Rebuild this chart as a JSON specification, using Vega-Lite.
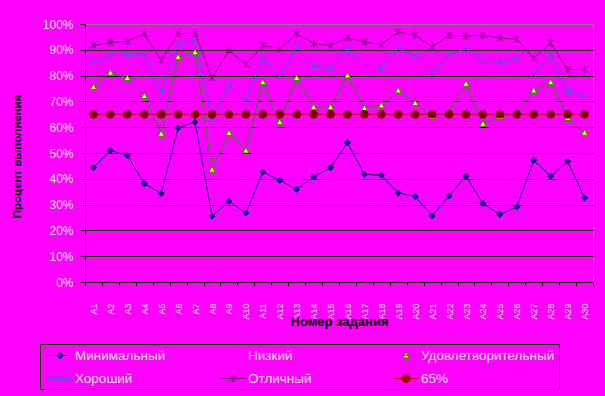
{
  "$schema": "https://vega.github.io/schema/vega-lite/v6.json",
  "autosize": {"type": "none"},
  "width": 508,
  "height": 258,
  "padding": {"left": 85, "top": 24, "right": 12, "bottom": 114},
  "background": "#FF00FF",
  "config": {
    "font": "Liberation Sans",
    "view": {"stroke": "#808080", "strokeWidth": 1},
    "legend": {
      "orient": "none", "legendX": -45, "legendY": 320,
      "direction": "horizontal", "columns": 3, "gridAlign": "all", "columnPadding": 8, "rowPadding": 9,
      "padding": 4, "strokeColor": "black", "symbolSize": 196, "symbolStrokeWidth": 1, "symbolOpacity": 1,
      "labelFontSize": 13.5, "labelColor": "#e0e0e0", "labelOffset": 16, "labelLimit": 300
    }
  },
  "data": {
    "values": [
      {"t": "А1", "Минимальный": 44.3, "Удовлетворительный": 75.6, "Хороший": 84.9, "Отличный": 91.7, "65%": 65},
      {"t": "А2", "Минимальный": 51.0, "Удовлетворительный": 81.2, "Хороший": 87.9, "Отличный": 92.8, "65%": 65},
      {"t": "А3", "Минимальный": 49.1, "Удовлетворительный": 79.1, "Хороший": 87.9, "Отличный": 93.3, "65%": 65},
      {"t": "А4", "Минимальный": 38.1, "Удовлетворительный": 72.1, "Хороший": 88.5, "Отличный": 96.3, "65%": 65},
      {"t": "А5", "Минимальный": 34.3, "Удовлетворительный": 57.5, "Хороший": 73.6, "Отличный": 85.9, "65%": 65},
      {"t": "А6", "Минимальный": 59.7, "Удовлетворительный": 87.2, "Хороший": 92.4, "Отличный": 96.3, "65%": 65},
      {"t": "А7", "Минимальный": 62.0, "Удовлетворительный": 89.1, "Хороший": 93.7, "Отличный": 96.3, "65%": 65},
      {"t": "А8", "Минимальный": 25.5, "Удовлетворительный": 43.6, "Хороший": 62.9, "Отличный": 79.1, "65%": 65},
      {"t": "А9", "Минимальный": 31.3, "Удовлетворительный": 57.8, "Хороший": 76.6, "Отличный": 89.8, "65%": 65},
      {"t": "А10", "Минимальный": 26.7, "Удовлетворительный": 51.0, "Хороший": 70.4, "Отличный": 84.4, "65%": 65},
      {"t": "А11", "Минимальный": 42.6, "Удовлетворительный": 77.5, "Хороший": 86.6, "Отличный": 91.7, "65%": 65},
      {"t": "А12", "Минимальный": 39.4, "Удовлетворительный": 62.0, "Хороший": 79.5, "Отличный": 90.5, "65%": 65},
      {"t": "А13", "Минимальный": 35.9, "Удовлетворительный": 79.1, "Хороший": 91.1, "Отличный": 96.3, "65%": 65},
      {"t": "А14", "Минимальный": 40.7, "Удовлетворительный": 67.8, "Хороший": 84.0, "Отличный": 92.4, "65%": 65},
      {"t": "А15", "Минимальный": 44.3, "Удовлетворительный": 67.8, "Хороший": 82.7, "Отличный": 91.7, "65%": 65},
      {"t": "А16", "Минимальный": 54.0, "Удовлетворительный": 80.1, "Хороший": 90.2, "Отличный": 94.6, "65%": 65},
      {"t": "А17", "Минимальный": 41.7, "Удовлетворительный": 67.4, "Хороший": 83.1, "Отличный": 93.0, "65%": 65},
      {"t": "А18", "Минимальный": 41.4, "Удовлетворительный": 68.5, "Хороший": 83.1, "Отличный": 92.0, "65%": 65},
      {"t": "А19", "Минимальный": 34.5, "Удовлетворительный": 74.3, "Хороший": 90.5, "Отличный": 96.9, "65%": 65},
      {"t": "А20", "Минимальный": 33.2, "Удовлетворительный": 69.4, "Хороший": 87.6, "Отличный": 95.6, "65%": 65},
      {"t": "А21", "Минимальный": 25.6, "Удовлетворительный": 64.0, "Хороший": 80.8, "Отличный": 91.1, "65%": 65},
      {"t": "А22", "Минимальный": 33.3, "Удовлетворительный": 66.0, "Хороший": 88.1, "Отличный": 95.6, "65%": 65},
      {"t": "А23", "Минимальный": 41.0, "Удовлетворительный": 76.9, "Хороший": 90.5, "Отличный": 95.3, "65%": 65},
      {"t": "А24", "Минимальный": 30.4, "Удовлетворительный": 61.4, "Хороший": 85.5, "Отличный": 95.6, "65%": 65},
      {"t": "А25", "Минимальный": 26.2, "Удовлетворительный": 64.0, "Хороший": 85.3, "Отличный": 94.6, "65%": 65},
      {"t": "А26", "Минимальный": 29.1, "Удовлетворительный": 65.5, "Хороший": 86.8, "Отличный": 94.1, "65%": 65},
      {"t": "А27", "Минимальный": 47.2, "Удовлетворительный": 74.3, "Хороший": 80.4, "Отличный": 86.8, "65%": 65},
      {"t": "А28", "Минимальный": 41.0, "Удовлетворительный": 77.5, "Хороший": 88.1, "Отличный": 92.6, "65%": 65},
      {"t": "А29", "Минимальный": 46.8, "Удовлетворительный": 63.6, "Хороший": 73.9, "Отличный": 82.4, "65%": 65},
      {"t": "А30", "Минимальный": 32.6, "Удовлетворительный": 57.9, "Хороший": 72.1, "Отличный": 82.4, "65%": 65}
    ]
  },
  "transform": [
    {"fold": ["Минимальный", "Удовлетворительный", "Хороший", "Отличный", "65%"], "as": ["s", "v"]}
  ],
  "encoding": {
    "x": {
      "field": "t", "type": "ordinal", "sort": null, "bandPosition": 0.5,
      "scale": {"type": "band", "paddingInner": 0, "paddingOuter": 0},
      "axis": {
        "title": "Номер задания", "titleFontSize": 13, "titleFontWeight": "bold", "titleColor": "black",
        "titleX": 254, "titleY": 39, "titleBaseline": "middle", "titleAlign": "center",
        "labelAngle": -90, "labelFontSize": 9, "labelColor": "#e0e0e0", "labelPadding": 17,
        "tickBand": "extent", "tickSize": 4, "tickColor": "black", "domainColor": "black",
        "grid": false, "labelOverlap": false
      }
    },
    "y": {
      "field": "v", "type": "quantitative",
      "scale": {"domain": [0, 100], "nice": false},
      "axis": {
        "title": "Процент выполнения", "titleFontSize": 11.5, "titleFontWeight": "bold", "titleColor": "black",
        "titleX": -68, "titleY": 132, "titleAngle": 270, "titleBaseline": "middle", "titleAlign": "center",
        "values": [0, 10, 20, 30, 40, 50, 60, 70, 80, 90, 100],
        "labelExpr": "datum.value + '%'", "labelFontSize": 12, "labelColor": "#e0e0e0", "labelPadding": 7,
        "tickSize": 5, "tickColor": "black", "domainColor": "black",
        "grid": true, "gridColor": {"condition": {"test": "datum.value === 100", "value": "#808080"}, "value": "black"}
      }
    }
  },
  "layer": [
    {
      "mark": {"type": "point", "size": 196, "strokeWidth": 1, "opacity": 0},
      "encoding": {
        "stroke": {
          "field": "s", "type": "nominal", "legend": {"title": null},
          "scale": {
            "domain": ["Минимальный", "Низкий", "Удовлетворительный", "Хороший", "Отличный", "65%"],
            "range": ["#000080", "#FF00FF", "#00A000", "#3366CC", "#800080", "#C00000"]
          }
        },
        "fill": {
          "field": "s", "type": "nominal", "legend": {"title": null},
          "scale": {
            "domain": ["Минимальный", "Низкий", "Удовлетворительный", "Хороший", "Отличный", "65%"],
            "range": ["#000080", "transparent", "#FFFF00", "transparent", "transparent", "#800000"]
          }
        },
        "shape": {
          "field": "s", "type": "nominal", "legend": {"title": null},
          "scale": {
            "domain": ["Минимальный", "Низкий", "Удовлетворительный", "Хороший", "Отличный", "65%"],
            "range": [
              "M-0.6,0H3M1.2,-0.45L1.65,0L1.2,0.45L0.75,0Z",
              "M-0.6,0H3",
              "M-0.6,0H3M1.2,-0.5L1.65,0.35L0.75,0.35Z",
              "M-0.6,0H3M0.8,-0.4L1.6,0.4M1.6,-0.4L0.8,0.4",
              "M-0.6,0H3M0.8,-0.4L1.6,0.4M1.6,-0.4L0.8,0.4M1.2,-0.5V0.5",
              "M-0.6,0H3M0.6,0A0.6,0.6 0 1,0 1.8,0A0.6,0.6 0 1,0 0.6,0Z"
            ]
          }
        }
      }
    },
    {
      "mark": {"type": "line", "strokeWidth": 1},
      "encoding": {
        "stroke": {"field": "s", "type": "nominal", "legend": {"title": null}}
      }
    },
    {
      "transform": [{"filter": "datum.s === 'Минимальный'"}],
      "mark": {"type": "point", "shape": "M0,-0.85L0.85,0L0,0.85L-0.85,0Z", "size": 49, "filled": true, "fill": "#000080", "stroke": "#000080", "strokeWidth": 1, "opacity": 1}
    },
    {
      "transform": [{"filter": "datum.s === 'Удовлетворительный'"}],
      "mark": {"type": "point", "shape": "M0,-0.9L0.9,0.75L-0.9,0.75Z", "size": 49, "filled": true, "fill": "#FFFF00", "stroke": "#00A000", "strokeWidth": 1, "opacity": 1}
    },
    {
      "transform": [{"filter": "datum.s === 'Хороший'"}],
      "mark": {"type": "point", "shape": "M-0.9,-0.9L0.9,0.9M0.9,-0.9L-0.9,0.9", "size": 49, "filled": false, "stroke": "#3366CC", "strokeWidth": 1, "opacity": 1}
    },
    {
      "transform": [{"filter": "datum.s === 'Отличный'"}],
      "mark": {"type": "point", "shape": "M-0.9,-0.9L0.9,0.9M0.9,-0.9L-0.9,0.9M0,-1.1V1.1", "size": 49, "filled": false, "stroke": "#800080", "strokeWidth": 1, "opacity": 1}
    },
    {
      "transform": [{"filter": "datum.s === '65%'"}],
      "mark": {"type": "point", "shape": "circle", "size": 60, "filled": true, "fill": "#800000", "stroke": "#800000", "strokeWidth": 1, "opacity": 1}
    }
  ]
}
